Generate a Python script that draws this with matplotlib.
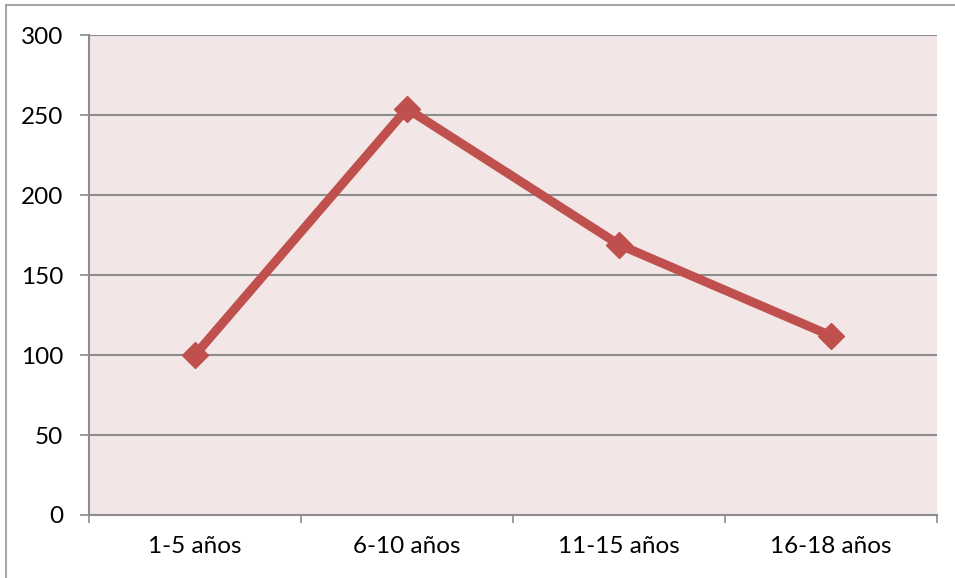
import matplotlib.pyplot as plt
from matplotlib.patches import Rectangle
from matplotlib.ticker import FixedLocator, NullFormatter

plt.rcParams['font.family'] = ['Lato', 'DejaVu Sans']

categories = ['1-5 años', '6-10 años', '11-15 años', '16-18 años']
values = [100, 254, 169, 112]
y_ticks = [0, 50, 100, 150, 200, 250, 300]

line_color = '#C0504D'
grid_color = '#8C8C8C'

fig = plt.figure(figsize=(9.55, 5.78), dpi=100)
ax = fig.add_axes([0.0932, 0.109, 0.888, 0.8304])
ax.set_facecolor('#F2E7E6')

x = list(range(len(categories)))
ax.plot(x, values, color=line_color, linewidth=6.5, marker='D',
        markersize=13, markerfacecolor=line_color, markeredgecolor=line_color,
        solid_joinstyle='miter', zorder=3)

ax.set_xlim(-0.5, len(categories) - 0.5)
ax.set_ylim(0, 300)
ax.set_yticks(y_ticks)
ax.yaxis.grid(True, color=grid_color, linewidth=1.5)
ax.set_axisbelow(True)

# category labels centred, tick marks on the boundaries between them
ax.set_xticks(x)
ax.set_xticklabels(categories)
ax.xaxis.set_minor_locator(FixedLocator([i - 0.5 for i in range(len(categories) + 1)]))
ax.xaxis.set_minor_formatter(NullFormatter())
ax.tick_params(axis='x', which='major', length=0, pad=15, labelsize=17.5)
ax.tick_params(axis='x', which='minor', length=6, width=1.2, color=grid_color)
ax.tick_params(axis='y', length=6.5, width=1.2, color=grid_color, pad=12, labelsize=17.5)

for side in ['top', 'right']:
    ax.spines[side].set_visible(False)
for side in ['left', 'bottom']:
    ax.spines[side].set_color(grid_color)
    ax.spines[side].set_linewidth(1.5)

# outer chart frame
fig.patches.append(Rectangle((6 / 955, -0.1), 1.2, 1 - 5 / 578 + 0.1,
                             transform=fig.transFigure, fill=False,
                             edgecolor='#A6A6A6', linewidth=1.5))

fig.savefig('out.png', dpi=100)
